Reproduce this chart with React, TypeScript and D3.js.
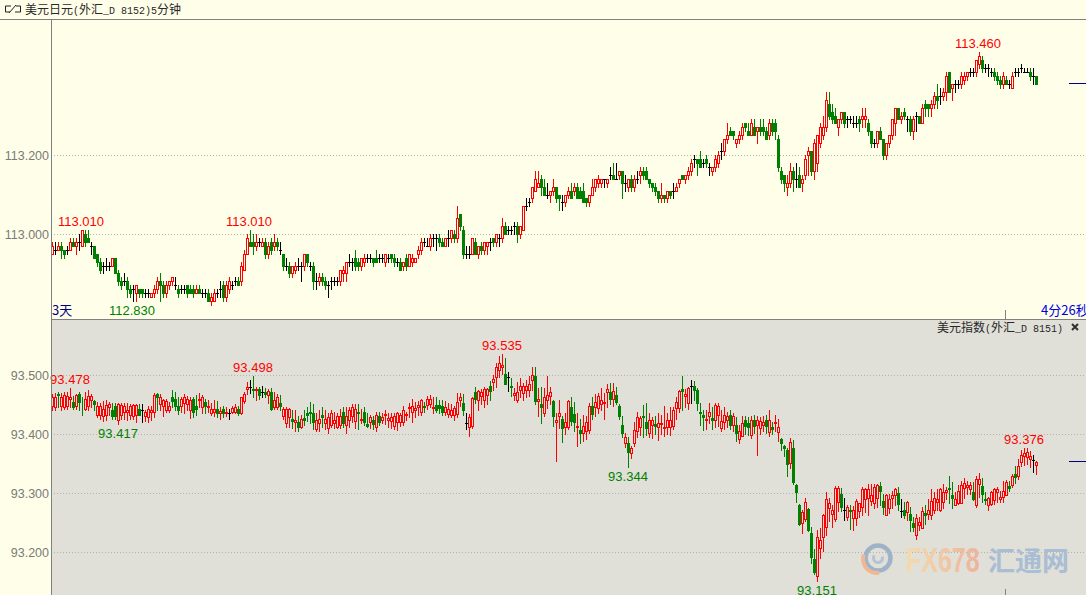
import React, { useEffect, useRef } from 'react';
import * as d3 from 'd3';

type Bar = [number, number, number, number];

// USD/JPY 5 min bars: [open, close, high, low], hundredths of a yen above 113
const jpyBars: Bar[] = [
  [-5,-3,-2,-5],[-4,-4,-2,-5],[-4,-3,-2,-4],[-3,-4,-2,-6],[-4,-5,-4,-6],[-4,-4,-3,-5],[-4,-2,-1,-4],[-2,-3,-1,-3],[-3,-2,-1,-5],[-2,-2,0,-4],
  [-3,1,1,-3],[0,-2,1,-3],[-1,-2,1,-2],[-3,-3,-2,-5],[-3,-6,-3,-6],[-5,-7,-5,-8],[-7,-9,-6,-10],[-8,-8,-7,-10],[-8,-8,-6,-9],[-8,-8,-7,-9],
  [-8,-6,-6,-8],[-6,-10,-6,-10],[-10,-12,-9,-13],[-12,-13,-11,-14],[-12,-12,-10,-13],[-12,-14,-11,-16],[-14,-15,-13,-16],[-14,-14,-13,-17],[-15,-13,-13,-17],[-14,-15,-14,-16],
  [-14,-15,-14,-16],[-15,-15,-14,-16],[-15,-15,-14,-16],[-16,-15,-15,-16],[-15,-14,-13,-16],[-14,-12,-11,-15],[-12,-13,-10,-17],[-13,-15,-12,-16],[-15,-13,-12,-16],[-13,-12,-12,-14],
  [-12,-11,-11,-13],[-13,-13,-11,-14],[-14,-15,-13,-16],[-14,-14,-13,-15],[-14,-14,-13,-15],[-13,-15,-13,-16],[-14,-15,-13,-15],[-14,-15,-13,-16],[-15,-14,-13,-15],[-14,-15,-13,-15],
  [-15,-15,-14,-16],[-15,-15,-14,-16],[-15,-17,-14,-17],[-17,-16,-15,-18],[-17,-15,-14,-17],[-15,-15,-14,-16],[-14,-14,-12,-16],[-13,-16,-12,-17],[-16,-13,-12,-17],[-14,-12,-11,-15],
  [-13,-13,-12,-14],[-12,-12,-11,-13],[-12,-13,-11,-13],[-12,-8,-7,-13],[-9,-5,-4,-9],[-5,-1,0,-5],[-2,-3,1,-3],[-2,-3,0,-5],[-3,-2,0,-4],[-2,-2,-1,-3],
  [-3,-2,-1,-3],[-2,-5,-1,-6],[-5,-3,-2,-6],[-2,-4,-1,-5],[-3,-2,0,-4],[-2,-3,-1,-4],[-4,-4,-2,-5],[-5,-8,-5,-9],[-8,-8,-6,-9],[-8,-10,-7,-11],
  [-10,-8,-8,-11],[-9,-8,-7,-10],[-8,-8,-6,-9],[-8,-8,-7,-12],[-8,-5,-5,-9],[-5,-7,-5,-8],[-8,-8,-7,-9],[-8,-12,-7,-14],[-12,-12,-10,-14],[-12,-11,-10,-13],
  [-11,-12,-10,-13],[-12,-13,-11,-14],[-13,-13,-12,-16],[-12,-12,-11,-14],[-12,-12,-11,-13],[-12,-12,-11,-13],[-12,-9,-9,-13],[-10,-9,-8,-12],[-10,-7,-7,-12],[-7,-7,-5,-8],
  [-7,-7,-6,-9],[-6,-8,-4,-9],[-7,-8,-6,-9],
  [-8,-6,-6,-9],[-7,-6,-5,-8],[-6,-6,-5,-7],[-6,-6,-5,-7],[-6,-7,-6,-8],[-6,-7,-4,-7],[-6,-6,-5,-7],[-6,-6,-5,-7],[-7,-5,-5,-8],[-6,-6,-5,-7],
  [-5,-6,-5,-7],[-6,-7,-5,-8],[-7,-7,-6,-8],[-7,-9,-6,-9],[-8,-7,-7,-9],[-6,-8,-5,-9],[-8,-5,-5,-8],[-7,-6,-5,-8],[-7,-6,-6,-7],[-5,-4,-3,-6],
  [-4,-2,-1,-5],[-2,-2,-1,-3],[-3,-3,-1,-3],[-3,-1,0,-4],[-1,-1,0,-3],[-1,-1,0,-4],[-1,-2,0,-3],[-2,-3,-1,-3],[-3,-1,-1,-3],[-1,-1,1,-3],
  [-1,1,1,-2],[0,-1,1,-2],[-1,4,7,-2],[5,2,5,1],[1,-5,2,-6],[-5,-5,-3,-6],[-5,-5,-3,-6],[-5,-1,-1,-5],[-2,-5,-1,-5],[-5,-3,-3,-6],
  [-3,-4,-2,-5],[-4,-2,-2,-5],[-3,-2,-2,-5],[-2,-2,-1,-4],[-1,-2,-1,-3],[-2,0,0,-3],[-1,-1,0,-3],[-1,2,4,-2],[2,0,3,0],[1,1,2,0],
  [1,1,2,0],[2,2,3,0],[2,0,3,-2],[0,2,2,-1],[1,7,7,1],[7,7,9,6],[8,8,9,7],[9,12,12,8],[11,14,16,11],[12,13,16,12],
  [14,12,15,10],[12,10,14,10],[10,10,13,9],[10,11,11,8],[11,12,14,10],[12,9,12,8],[10,9,10,6],[8,8,10,6],[8,10,10,7],[10,11,12,9],
  [11,9,13,9],[11,12,13,10],[12,9,13,9],[11,9,12,9],[11,8,13,8],[9,8,9,7],[8,10,10,7],[10,12,14,10],[12,14,14,11],[13,14,15,12],
  [13,14,14,12],[14,14,14,12],[13,14,14,12],[15,15,17,14],[15,14,18,14],[14,14,18,14],[15,16,16,14],[16,13,16,9],[13,13,15,11],[12,14,14,11],
  [14,12,15,11],[12,14,15,11],[14,14,16,13],[15,16,17,13],[16,15,17,14],[16,14,17,14],[14,13,14,12],[13,12,13,11],[12,11,13,10],[11,9,11,8],
  [9,10,13,8],[10,9,10,8],[9,11,11,8],[11,10,11,9],[11,11,13,9],[11,12,13,11],[13,14,14,12],[15,14,15,14],[14,15,15,13],[15,16,17,14],
  [16,18,19,15],[19,19,20,17],[19,18,19,15],[19,17,21,17],[18,18,19,17],[19,18,20,17],[17,17,18,15],[16,17,17,15],[17,19,20,16],[18,20,21,17],
  [21,21,23,19],[21,24,24,20],[24,25,28,23],[26,25,27,25],[26,25,26,24],[23,24,24,22],[24,25,26,23],[25,27,28,24],[28,27,28,26],[26,25,28,25],
  [25,28,29,25],[27,25,29,25],[26,27,27,23],[27,26,29,25],[27,26,29,25],[26,24,27,24],[25,28,29,24],[28,26,29,25],[28,26,29,24],[24,17,25,16],
  [16,14,17,13],[15,13,15,11],[12,13,15,10],[13,16,18,12],[16,14,17,11],[14,14,18,12],[15,12,17,12],[13,14,15,11],[15,19,20,14],[20,21,22,15],
  [21,16,21,15],[16,23,24,14],[18,25,25,16],[23,27,28,22],[25,27,30,24],[27,34,36,26],[33,30,36,29],[31,29,33,28],[30,28,32,28],[27,29,29,25],
  [29,31,31,28],[31,28,31,27],[29,29,30,27],[29,29,30,28],[28,28,30,27],[28,28,30,27],[29,28,30,26],[29,30,32,27],[29,30,32,27],[28,26,29,25],
  [26,23,26,22],[23,23,24,22],[23,26,26,22],[26,24,27,24],[24,20,24,19],[20,23,23,19],[23,25,25,22],[25,29,29,24],[28,32,32,25],[32,29,32,29],
  [29,30,31,28],[31,30,32,29],[29,29,30,26],[29,26,30,25],[26,29,30,24],[30,30,31,26],[30,28,30,28],[28,32,33,28],[33,32,34,30],[33,32,33,30],
  [32,33,34,30],[33,35,36,32],[35,34,38,32],[35,35,37,33],[35,36,37,34],[36,40,41,34],[41,36,41,36],[37,38,38,34],[38,38,39,36],[38,38,39,37],
  [38,40,41,37],[39,40,41,38],[40,41,41,39],[41,41,42,40],[41,41,42,40],[41,44,44,40],[43,45,46,42],[44,42,45,41],[42,42,43,41],[42,42,43,40],
  [41,41,42,40],[41,40,42,39],[40,39,41,38],[39,38,40,37],[38,40,41,37],[39,38,40,38],[38,38,39,37],[37,40,41,37],[41,41,42,40],[41,41,42,40],
  [42,42,43,41],[41,41,42,41],[41,41,42,41],[41,40,42,39],[40,40,42,38],[40,38,40,38],
];

// US dollar index bars: [open, close, high, low], thousandths above 93
const dxyBars: Bar[] = [
  [448,462,468,440],[445,462,470,440],[468,466,472,445],[447,462,470,440],[445,466,472,442],[448,465,472,442],[460,463,478,445],[454,446,465,443],[448,466,468,443],[468,455,472,440],
  [453,452,462,432],[442,460,472,440],[447,465,474,440],[458,464,468,446],[456,450,458,440],[432,448,455,428],[433,448,452,426],[430,442,456,422],[432,449,458,424],[445,450,455,432],
  [440,430,452,426],[447,430,452,425],[424,450,452,417],[432,449,453,426],[438,447,452,425],[438,440,452,424],[432,447,450,425],[430,449,451,425],[432,449,450,420],[442,433,450,432],
  [440,440,450,420],[430,438,440,422],[428,442,448,420],[438,440,448,423],[437,466,470,428],[468,462,470,440],[451,463,468,440],[447,457,460,430],[440,456,460,438],[441,448,455,437],
  [462,456,474,445],[460,448,472,440],[447,441,462,434],[448,460,462,438],[452,463,468,436],[451,459,465,440],[440,458,462,427],[460,438,462,428],[447,442,466,432],[458,460,470,445],
  [446,463,466,435],[455,447,460,436],[446,448,458,437],[435,443,452,432],[437,443,458,430],[442,435,456,428],[436,439,446,425],[443,436,448,428],[435,438,445,430],[436,436,442,425],
  [437,444,448,435],[438,445,450,435],[442,435,448,432],[435,462,463,434],[456,468,472,452],[477,479,488,468],[480,480,491,470],[476,474,498,462],[474,477,480,458],[477,466,480,460],
  [472,472,482,463],[472,468,478,462],[466,473,476,452],[472,443,478,441],[446,458,472,443],[446,462,468,443],[452,448,466,440],[430,443,446,425],[418,442,445,412],[428,443,444,412],
  [425,422,440,410],[420,423,440,405],[420,412,430,405],[412,426,432,410],[427,423,440,415],[435,432,445,422],[437,435,454,418],[435,420,450,408],[408,424,436,405],[418,426,440,405],
  [432,428,445,412],[418,425,440,408],[410,428,436,402],[415,435,440,412],[418,424,438,410],[412,430,436,410],[415,430,442,410],[438,418,445,412],[415,430,445,402],[423,440,445,412],
  [430,445,450,420],[422,442,450,410],[438,436,450,408],
  [424,426,442,419],[438,421,445,415],[417,414,436,412],[421,428,432,410],[424,417,430,408],[412,432,437,405],[431,421,437,415],[424,429,436,418],[432,434,441,417],[423,427,436,412],
  [422,428,436,410],[413,430,436,408],[421,436,438,406],[421,433,436,413],[421,440,448,416],[432,434,437,424],[444,446,452,428],[437,448,460,420],[441,444,455,428],[445,449,456,432],
  [437,458,460,432],[447,445,454,437],[449,459,464,442],[451,459,466,445],[444,446,462,436],[449,441,462,437],[449,444,458,436],[448,437,458,432],[437,446,456,432],[434,443,452,428],
  [433,440,450,428],[432,444,448,424],[434,455,470,428],[458,463,470,448],[453,441,468,432],[419,419,436,408],[412,429,434,396],[414,461,462,410],[472,459,480,452],[457,473,474,440],
  [465,472,476,450],[457,476,480,445],[466,476,478,450],[482,473,490,457],[488,493,500,475],[497,514,520,480],[508,520,533,497],[514,517,535,502],[502,484,528,484],[497,497,505,473],
  [481,479,495,465],[466,470,478,458],[458,472,488,455],[474,481,495,462],[470,481,486,457],[474,482,492,462],[474,484,498,465],[491,500,513,475],[499,456,513,450],[456,459,478,430],
  [451,445,480,419],[436,463,478,430],[458,466,498,444],[464,472,480,450],[456,430,458,414],[421,424,435,355],[430,436,458,410],[426,410,430,387],[412,421,435,400],[412,456,458,408],
  [446,422,462,415],[434,420,455,405],[412,414,435,379],[406,401,425,385],[402,414,432,388],[405,420,430,392],[407,448,452,402],[448,434,462,425],[446,455,468,430],[444,465,470,435],
  [451,457,478,440],[453,455,470,425],[471,476,485,446],[472,459,486,450],[459,473,486,447],[466,454,480,450],[448,430,450,426],[416,401,430,395],[385,395,402,378],[385,369,395,344],
  [368,376,380,360],[385,407,420,380],[405,429,438,395],[412,427,430,398],[431,429,449,395],[421,410,453,398],[401,424,435,395],[416,424,428,394],[417,414,430,400],[412,419,435,390],
  [417,419,432,400],[411,412,447,396],[412,423,435,400],[412,424,445,398],[414,441,445,408],[444,455,462,425],[444,473,475,438],[476,473,498,440],[464,467,476,445],[452,478,480,442],
  [482,482,492,452],[482,475,490,458],[475,453,478,440],[438,435,452,415],[433,429,440,407],[423,425,440,408],[431,437,452,418],[427,424,445,408],[424,449,452,412],[432,447,452,413],
  [410,422,440,405],[420,432,446,408],[424,430,438,412],[432,416,440,408],[416,430,436,405],[415,401,428,388],[392,405,415,385],[396,419,430,398],[424,413,430,400],[419,412,428,398],
  [398,424,430,394],[424,413,432,402],[415,424,430,364],[410,422,428,400],[415,421,430,405],[424,414,432,402],[404,424,440,396],[412,408,420,400],[419,421,432,405],[403,412,425,388],
  [392,384,394,373],[379,376,382,363],[373,350,376,328],[351,386,393,342],[376,318,389,316],[314,301,316,284],[280,247,281,245],[250,268,272,233],[256,285,292,252],[273,237,275,235],
  [232,191,243,181],[188,166,205,163],[160,225,238,151],[206,220,240,190],[225,262,264,201],[243,290,301,229],[275,283,291,252],[265,272,280,242],[256,308,312,252],[284,308,312,269],
  [299,276,308,269],[272,272,292,255],[259,276,280,255],[272,270,280,239],[258,272,278,238],[258,286,290,245],[269,283,283,260],[277,307,311,262],[290,307,308,268],[292,306,315,262],
  [286,296,315,279],[283,311,315,275],[291,314,316,276],[312,303,318,279],[286,277,298,265],[263,297,298,262],[275,289,298,266],[292,297,304,275],[297,307,308,279],[300,282,311,272],
  [269,269,290,260],[272,262,284,258],[267,284,286,255],[265,255,276,235],[249,243,260,235],[229,258,265,222],[246,251,260,238],[241,270,276,240],[266,262,280,248],[265,272,290,256],
  [263,287,307,256],[272,291,301,266],[284,289,307,272],[272,307,308,269],[284,301,316,275],[301,305,311,290],[309,306,328,283],[297,291,318,275],[280,290,301,279],[283,303,314,281],
  [283,314,320,283],[308,317,326,292],[311,314,320,299],[306,314,318,299],[302,289,318,288],[279,324,328,276],[316,323,334,293],[312,299,326,284],[290,288,301,282],[279,292,293,272],
  [282,301,303,279],[288,306,308,281],[301,306,311,284],[289,294,303,284],[293,303,320,284],[297,319,322,296],[312,309,320,303],[314,328,333,310],[333,327,345,317],[328,346,358,324],
  [352,365,373,345],[362,368,376,347],[361,369,376,350],[358,363,372,344],[356,356,365,335],[347,352,354,333],
];

const jpyTicks = [113.2, 113.0];
const dxyTicks = [93.5, 93.4, 93.3, 93.2];

// index of the bar each extreme label sits on
const jpyHighLabels = [10, 66, 309];
const jpyLowLabels = [27];
const dxyHighLabels = [6, 67, 150, 324];
const dxyLowLabels = [22, 192, 255];

const W = 1086;
const H = 595;
const TOP_BG = '#ffffe9';
const BOTTOM_BG = '#e0e0d8';
const RED = '#ff0000';
const GREEN = '#008000';
const CJK = '"Noto Sans CJK SC", sans-serif';
const MONO = '"Liberation Mono", monospace';

function drawPanel(
  root: d3.Selection<SVGSVGElement, unknown, null, undefined>,
  bars: Bar[],
  ticks: number[],
  y: d3.ScaleLinear<number, number>,
  base: number,
  div: number,
  bg: string,
  highs: number[],
  lows: number[],
  labelDx: number,
) {
  const x = d3.scaleLinear().domain([0, 328]).range([52.5, 1036.5]);
  const py = (v: number) => Math.round(y(base + v / div)) + 0.5;

  // grid and price labels
  const axis = root.append('g')
    .attr('transform', 'translate(51,0)')
    .call(d3.axisLeft(y).tickValues(ticks).tickFormat(d3.format('.3f')).tickSize(-W + 51).tickPadding(2));
  axis.select('.domain').remove();
  axis.selectAll('line').attr('stroke', '#b4b4a8').attr('stroke-dasharray', '1,2');
  axis.selectAll('text')
    .attr('fill', '#7a7a7a')
    .style('font-family', '"Liberation Sans", Arial, sans-serif')
    .style('font-size', '12.5px');

  const candles = root.append('g').attr('shape-rendering', 'crispEdges');
  bars.forEach(([o, c, h, l], i) => {
    const cx = x(i);
    const color = c > o ? RED : c < o ? GREEN : '#000000';
    candles.append('line')
      .attr('x1', cx).attr('x2', cx)
      .attr('y1', py(h) - 0.5).attr('y2', py(l) + 0.5)
      .attr('stroke', color);
    if (o === c) {
      candles.append('line')
        .attr('x1', cx - 1.5).attr('x2', cx + 1.5)
        .attr('y1', py(o)).attr('y2', py(o))
        .attr('stroke', color);
    } else {
      candles.append('rect')
        .attr('x', cx - 1).attr('width', 2)
        .attr('y', py(Math.max(o, c)))
        .attr('height', py(Math.min(o, c)) - py(Math.max(o, c)))
        .attr('fill', c > o ? bg : GREEN)
        .attr('stroke', color);
    }
  });

  const label = (i: number, v: number, dy: number, color: string) => {
    root.append('text')
      .attr('x', x(i) + labelDx)
      .attr('y', py(v) + dy)
      .attr('text-anchor', 'middle')
      .attr('fill', color)
      .style('font-family', '"Liberation Sans", Arial, sans-serif')
      .style('font-size', '13px')
      .text((base + v / div).toFixed(3));
  };
  highs.forEach(i => label(i, bars[i][2], -5, RED));
  lows.forEach(i => label(i, bars[i][3], 13, GREEN));

  // last price marker at the right edge
  const last = bars[bars.length - 1][1];
  root.append('line')
    .attr('x1', 1069).attr('x2', W)
    .attr('y1', py(last) - 1).attr('y2', py(last) - 1)
    .attr('stroke', '#000080')
    .attr('shape-rendering', 'crispEdges');
}

// bitmap-style header: CJK glyphs 12px wide, latin glyphs 6px wide
function header(
  root: d3.Selection<SVGSVGElement, unknown, null, undefined>,
  px: number,
  py: number,
  parts: string[],
) {
  const t = root.append('text').attr('x', px).attr('y', py).attr('fill', '#282828');
  parts.forEach(p => {
    const latin = /^[\x00-\x7f]+$/.test(p);
    t.append('tspan')
      .style('font-family', latin ? MONO : CJK)
      .style('font-size', latin ? '10px' : '12px')
      .attr('xml:space', 'preserve')
      .text(p);
  });
}

export default function App() {
  const svgRef = useRef<SVGSVGElement>(null);

  useEffect(() => {
    if (!svgRef.current) return;
    const svg = d3.select(svgRef.current);
    svg.selectAll('*').remove();

    // backgrounds
    svg.append('rect').attr('width', W).attr('height', H).attr('fill', TOP_BG);
    svg.append('rect').attr('x', 52).attr('y', 320).attr('width', W - 52).attr('height', H - 320).attr('fill', BOTTOM_BG);

    const jpyY = d3.scaleLinear().domain([113.0, 113.2]).range([234, 155]);
    const dxyY = d3.scaleLinear().domain([93.2, 93.5]).range([552, 375]);
    drawPanel(svg, jpyBars, jpyTicks, jpyY, 113, 100, TOP_BG, jpyHighLabels, jpyLowLabels, -1.5);
    drawPanel(svg, dxyBars, dxyTicks, dxyY, 93, 1000, BOTTOM_BG, dxyHighLabels, dxyLowLabels, -0.5);

    // frame
    const frame = svg.append('g').attr('stroke', '#808080').attr('shape-rendering', 'crispEdges');
    frame.append('line').attr('x1', 0).attr('x2', W).attr('y1', 19.5).attr('y2', 19.5);
    frame.append('line').attr('x1', 51.5).attr('x2', 51.5).attr('y1', 19.5).attr('y2', H);
    frame.append('line').attr('x1', 51.5).attr('x2', W).attr('y1', 319.5).attr('y2', 319.5);
    frame.append('line').attr('x1', 1005.5).attr('x2', 1005.5).attr('y1', 310).attr('y2', 320);
    frame.append('line').attr('x1', 1005.5).attr('x2', 1005.5).attr('y1', 589).attr('y2', H);

    // headers
    svg.append('path')
      .attr('d', 'M11,6H5.5V12H10M15,12H20.5V6H16M9,13L16,5')
      .attr('fill', 'none')
      .attr('stroke', '#202020');
    header(svg, 25, 14, ['美元日元', '(', '外汇', '_D 8152)5', '分钟']);
    header(svg, 937, 332, ['美元指数', '(', '外汇', '_D 8151)']);
    svg.append('path')
      .attr('d', 'M1072,324L1078,330M1078,324L1072,330')
      .attr('stroke', '#303030')
      .attr('stroke-width', 2);
    svg.append('text')
      .attr('x', 52).attr('y', 315)
      .attr('fill', '#000080')
      .style('font-family', CJK).style('font-size', '13px')
      .text('3天');
    svg.append('text')
      .attr('x', 1041).attr('y', 315)
      .attr('fill', '#0000e0')
      .style('font-family', CJK).style('font-size', '13px')
      .text('4分26秒');

    // watermark
    const defs = svg.append('defs');
    const grad = defs.append('linearGradient').attr('id', 'fxGrad');
    grad.append('stop').attr('offset', '0').attr('stop-color', '#f2dcae');
    grad.append('stop').attr('offset', '1').attr('stop-color', '#edb39c');
    const mark = svg.append('g');
    mark.append('circle')
      .attr('cx', 878).attr('cy', 558).attr('r', 12.5)
      .attr('fill', 'none').attr('stroke', '#9fb3c8').attr('stroke-width', 4.5);
    mark.append('path')
      .attr('d', d3.arc()({ innerRadius: 3, outerRadius: 6, startAngle: Math.PI * 0.4, endAngle: Math.PI * 1.7 }) as string)
      .attr('transform', 'translate(878,558)')
      .attr('fill', '#b4c4d4');
    mark.append('path')
      .attr('d', d3.arc()({ innerRadius: 12, outerRadius: 16, startAngle: Math.PI * 0.95, endAngle: Math.PI * 1.6 }) as string)
      .attr('transform', 'translate(877,559)')
      .attr('fill', '#edb994');
    mark.append('text')
      .attr('transform', 'translate(906,572) scale(1,1.4)')
      .attr('fill', 'url(#fxGrad)')
      .style('font-family', '"Liberation Sans", sans-serif').style('font-weight', 'bold').style('font-size', '25px')
      .text('FX678');
    mark.append('text')
      .attr('x', 988).attr('y', 571)
      .attr('fill', '#a9bdd4')
      .style('font-family', CJK).style('font-weight', 'bold').style('font-size', '27px')
      .text('汇通网');
  }, []);

  return (
    <svg
      ref={svgRef}
      width={W}
      height={H}
      style={{ position: 'absolute', left: 0, top: 0, display: 'block' }}
    />
  );
}
